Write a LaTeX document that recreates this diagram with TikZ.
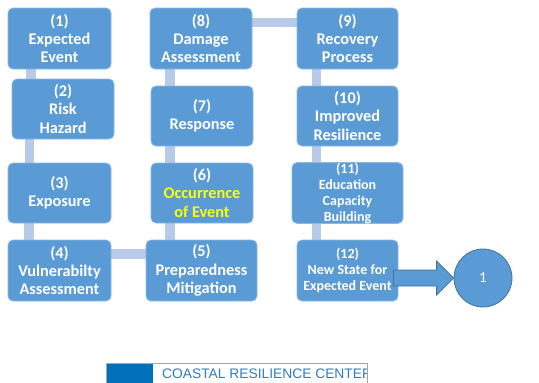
\documentclass[tikz,border=0pt]{standalone}
\usepackage{fontspec}
\setmainfont{Carlito}
\newfontfamily\logofont{Liberation Sans}
\usetikzlibrary{backgrounds,calc}
\definecolor{boxblue}{HTML}{5B9BD5}
\definecolor{boxedge}{HTML}{8DB8E4}
\definecolor{connblue}{HTML}{B7CBE8}
\definecolor{darkedge}{HTML}{41719C}
\definecolor{logoblue}{HTML}{0070BA}
\definecolor{logotext}{HTML}{2E7DC0}
\definecolor{occyellow}{HTML}{FFFF00}
\begin{document}
\begin{tikzpicture}[x=1pt,y=-1pt,
 stepbox/.style={rectangle, rounded corners=5pt, fill=boxblue, draw=boxedge, line width=0.8pt, text=white, font=\bfseries\fontsize{16.3}{18.3}\selectfont, align=center, inner sep=0pt},
 smallbox/.style={stepbox, font=\bfseries\fontsize{14}{16}\selectfont},
 conn/.style={connblue, line width=9.5pt}]
\useasboundingbox (0,0) rectangle (539,383);
% left column
\node[stepbox, minimum width=103pt, minimum height=61pt] (n1) at (59.5,38.5) {(1)\\Expected\\Event};
\node[stepbox, minimum width=102pt, minimum height=60pt] (n2) at (63,109) {(2)\\Risk\\Hazard};
\node[stepbox, minimum width=103pt, minimum height=60pt] (n3) at (59.5,193) {(3)\\Exposure};
\node[stepbox, minimum width=103pt, minimum height=61pt] (n4) at (59.5,270.5) {(4)\\Vulnerabilty\\Assessment};
% middle column
\node[stepbox, minimum width=111pt, minimum height=61pt] (n5) at (201.5,270.5) {(5)\\Preparedness\\Mitigation};
\node[stepbox, minimum width=102pt, minimum height=60pt] (n6) at (202,193) {(6)\\\textcolor{occyellow}{Occurrence}\\\textcolor{occyellow}{of Event}};
\node[stepbox, minimum width=102pt, minimum height=60pt] (n7) at (202,116) {(7)\\Response};
\node[stepbox, minimum width=102pt, minimum height=61pt] (n8) at (201,38.5) {(8)\\Damage\\Assessment};
% right column
\node[stepbox, minimum width=101pt, minimum height=61pt] (n9) at (347.5,38.5) {(9)\\Recovery\\Process};
\node[stepbox, minimum width=101pt, minimum height=60pt] (n10) at (347.5,116) {(10)\\Improved\\Resilience};
\node[smallbox, minimum width=111pt, minimum height=60pt] (n11) at (347.5,193) {(11)\\Education\\Capacity\\Building};
\node[smallbox, minimum width=101pt, minimum height=61pt] (n12) at (347.5,270.5) {(12)\\New State for\\Expected Event};
% circle
\node[circle, fill=boxblue, draw=darkedge, line width=0.8pt, minimum size=58pt, inner sep=0pt, text=white, font=\fontsize{15}{17}\selectfont] (c1) at (483,278) {1};
% connectors
\begin{scope}[on background layer]
\draw[conn] ([xshift=23.5pt]n1.south west) -- ([xshift=19.5pt]n2.north west);
\draw[conn] ([xshift=18pt]n2.south west) -- ([xshift=22pt]n3.north west);
\draw[conn] ([xshift=21.5pt]n3.south west) -- ([xshift=21.5pt]n4.north west);
\draw[conn] ([yshift=16.5pt]n4.east) -- ([yshift=16.5pt]n5.west);
\draw[conn] ([xshift=19.5pt]n6.south west) -- ([xshift=24.5pt]n5.north west);
\draw[conn] ([xshift=19.5pt]n7.south west) -- ([xshift=19.5pt]n6.north west);
\draw[conn] ([xshift=20.5pt]n8.south west) -- ([xshift=19.5pt]n7.north west);
\draw[conn] ([yshift=16pt]n8.east) -- ([yshift=16pt]n9.west);
\draw[conn] ([xshift=20pt]n9.south west) -- ([xshift=20pt]n10.north west);
\draw[conn] ([xshift=20pt]n10.south west) -- ([xshift=25pt]n11.north west);
\draw[conn] ([xshift=25pt]n11.south west) -- ([xshift=20pt]n12.north west);
\end{scope}
% block arrow
\coordinate (as) at ($(n12.east |- c1.west)+(-5,0)$);
\filldraw[fill=boxblue, draw=darkedge, line width=0.8pt, line join=miter]
  ($(as)+(0,-8)$) -- ($(c1.west)+(-17,-8)$) -- ($(c1.west)+(-17,-17)$) -- (c1.west)
  -- ($(c1.west)+(-17,17)$) -- ($(c1.west)+(-17,8)$) -- ($(as)+(0,8)$) -- cycle;
% logo
\fill[logoblue] (106,363) rectangle (153,392);
\begin{scope}
\clip (106,363) rectangle (367,392);
\node[anchor=base west, inner sep=0pt, text=logotext, font=\logofont\fontsize{13.8}{15}\selectfont] (logo) at (162,378) {COASTAL RESILIENCE CENTER};
\end{scope}
\draw[gray!70, line width=0.8pt] (106,363) rectangle (367,392);
\end{tikzpicture}
\end{document}
